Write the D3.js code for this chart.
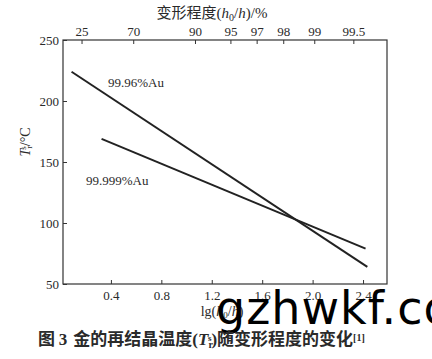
<!DOCTYPE html>
<html lang="zh">
<head>
<meta charset="UTF-8">
<title>金的再结晶温度</title>
<script src="https://d3js.org/d3.v7.min.js"></script>
<style>
  body { margin: 0; background: #fff; }
  svg { display: block; }
  .serif { font-family: "Liberation Serif", "DejaVu Serif", serif; fill: #2a2a2a; }
  .cjk { font-family: "Noto Sans CJK SC", sans-serif; fill: #2a2a2a; }
</style>
</head>
<body>
<svg id="chart" width="432" height="359"></svg>
<script>
// values
const seriesNames = ["99.96%Au", "99.999%Au"];
const lgHigh = [0.088, 2.434];   // lg(h0/h) of the 99.96%Au line ends
const tHigh = [224, 64];
const lgLow = [0.326, 2.42];     // 99.999%Au
const tLow = [169, 79];

const bottomTicks = [0.4, 0.8, 1.2, 1.6, 2.0, 2.4];
const leftTicks = [50, 100, 150, 200, 250];
const topTickLabels = ["25", "70", "90", "95", "97", "98", "99", "99.5"];
const topTickPos = [0.167, 0.577, 1.067, 1.348, 1.556, 1.767, 2.013, 2.323];

const svg = d3.select("#chart");
const plotL = 63, plotR = 387, plotT = 40, plotB = 284;

const x = d3.scaleLinear().domain([0.02, 2.59]).range([plotL, plotR]);
const y = d3.scaleLinear().domain([50, 250]).range([plotB, plotT]);

// frame
svg.append("rect")
  .attr("x", plotL).attr("y", plotT)
  .attr("width", plotR - plotL).attr("height", plotB - plotT)
  .attr("fill", "none").attr("stroke", "#333").attr("stroke-width", 1.2);

function styleAxis(g) {
  g.select(".domain").remove();
  g.selectAll("line").attr("stroke", "#333").attr("stroke-width", 1);
  g.selectAll("text")
    .attr("class", "serif")
    .style("font-size", "13px")
    .attr("fill", "#2a2a2a");
}

svg.append("g")
  .attr("transform", `translate(0,${plotB})`)
  .call(d3.axisBottom(x).tickValues(bottomTicks).tickFormat(d3.format(".1f"))
    .tickSizeInner(-4).tickSizeOuter(0).tickPadding(7))
  .call(styleAxis);

svg.append("g")
  .attr("transform", `translate(${plotL},0)`)
  .call(d3.axisLeft(y).tickValues(leftTicks)
    .tickSizeInner(-4).tickSizeOuter(0).tickPadding(4))
  .call(styleAxis);

svg.append("g")
  .attr("transform", `translate(0,${plotT})`)
  .call(d3.axisTop(x).tickValues(topTickPos).tickFormat((d, i) => topTickLabels[i])
    .tickSizeInner(-4).tickSizeOuter(0).tickPadding(4))
  .call(styleAxis);

// lines
const line = d3.line().x(d => x(d[0])).y(d => y(d[1]));
const lines = [d3.zip(lgHigh, tHigh), d3.zip(lgLow, tLow)];
svg.selectAll(".series").data(lines).enter()
  .append("path")
  .attr("class", "series")
  .attr("d", line)
  .attr("fill", "none")
  .attr("stroke", "#222")
  .attr("stroke-width", 2);

// series labels
svg.append("text").attr("class", "serif").style("font-size", "13px")
  .attr("x", 108).attr("y", 87).text(seriesNames[0]);
svg.append("text").attr("class", "serif").style("font-size", "13px")
  .attr("x", 86).attr("y", 185).text(seriesNames[1]);

// top axis title
const tt = svg.append("text").attr("x", 212).attr("y", 18)
  .attr("text-anchor", "middle").style("font-size", "15px");
tt.append("tspan").attr("class", "cjk").text("变形程度");
tt.append("tspan").attr("class", "serif").text("(");
tt.append("tspan").attr("class", "serif").style("font-style", "italic").text("h");
tt.append("tspan").attr("class", "serif").attr("baseline-shift", "-25%").style("font-size", "10px").text("0");
tt.append("tspan").attr("class", "serif").text("/");
tt.append("tspan").attr("class", "serif").style("font-style", "italic").text("h");
tt.append("tspan").attr("class", "serif").text(")/%");

// y axis title
const yt = svg.append("text")
  .attr("transform", "translate(30,142) rotate(-90)")
  .attr("text-anchor", "middle").attr("class", "serif").style("font-size", "14px");
yt.append("tspan").style("font-style", "italic").text("T");
yt.append("tspan").attr("baseline-shift", "-25%").style("font-size", "9px").text("r");
yt.append("tspan").attr("dx", -4).attr("baseline-shift", "40%").style("font-size", "9px").text("s");
yt.append("tspan").text("/°C");

// x axis title
const xt = svg.append("text").attr("x", 222).attr("y", 316)
  .attr("text-anchor", "middle").attr("class", "serif").style("font-size", "14px");
xt.append("tspan").text("lg(");
xt.append("tspan").style("font-style", "italic").text("h");
xt.append("tspan").attr("baseline-shift", "-25%").style("font-size", "9px").text("0");
xt.append("tspan").text("/");
xt.append("tspan").style("font-style", "italic").text("h");
xt.append("tspan").text(")");

// watermark
svg.append("text").attr("x", 216).attr("y", 324)
  .style("font-family", "'DejaVu Sans', sans-serif").style("font-size", "46px")
  .style("letter-spacing", "1px")
  .attr("fill", "#000").text("gzhwkf.co");

// caption
const cap = svg.append("text").attr("x", 38).attr("y", 345)
  .style("font-size", "17px").style("font-weight", "bold");
cap.append("tspan").attr("class", "cjk").text("图 ");
cap.append("tspan").attr("class", "serif").text("3");
cap.append("tspan").attr("class", "cjk").attr("dx", 6).text("金的再结晶温度");
cap.append("tspan").attr("class", "serif").text("(");
cap.append("tspan").attr("class", "serif").style("font-style", "italic").text("T");
cap.append("tspan").attr("class", "serif").attr("baseline-shift", "-25%").style("font-size", "10px").text("r");
cap.append("tspan").attr("class", "serif").attr("dx", -5).attr("baseline-shift", "45%").style("font-size", "9px").text("s");
cap.append("tspan").attr("class", "serif").text(")");
cap.append("tspan").attr("class", "cjk").text("随变形程度的变化");
cap.append("tspan").attr("class", "serif").attr("baseline-shift", "45%").style("font-size", "10px").text("[1]");
</script>
</body>
</html>
